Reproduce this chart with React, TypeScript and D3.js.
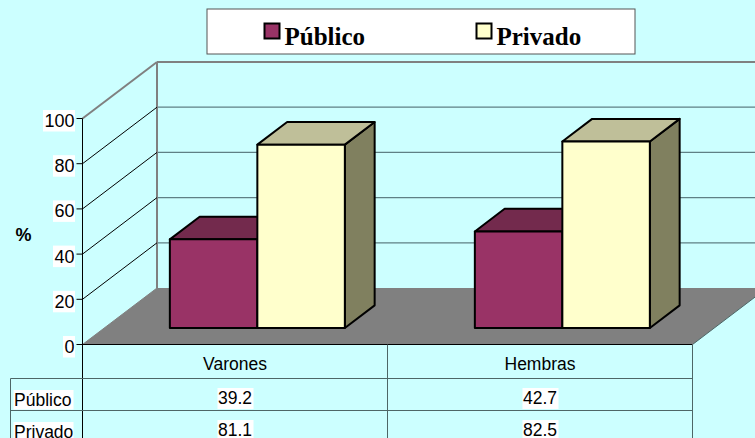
import React from "react";
import * as d3 from "d3";

const categories = ["Varones", "Hembras"];
const seriesNames = ["Público", "Privado"];
const publico = [39.2, 42.7];
const privado = [81.1, 82.5];
const yTicks = [0, 20, 40, 60, 80, 100];
const faceColors = ["#993366", "#FFFFCC"];
const topColors = ["#732A4D", "#BFBF99"];
const sideColors = ["#66223F", "#80805F"];

const W = 755, H = 438;
const y = d3.scaleLinear().domain([0, 100]).range([344.5, 118.5]);
const xBand = d3.scaleBand<string>().domain(categories).range([82.5, 692.5]);
const depthX = 74.5, depthY = 56.5;
const zFront = 0.2933, zBack = 0.6933;
const barW = 87.5;
const groupPad = (xBand.bandwidth() - 2 * barW) / 2;

const proj = (x: number, v: number, z: number): [number, number] => [x + depthX * z, y(v) - depthY * z];
const poly = (pts: [number, number][]) => pts.map((p) => p.join(",")).join(" ");

const FONT = "'Liberation Sans', Arial, sans-serif";
const SERIF = "'Liberation Serif', 'Times New Roman', serif";
const GRID = "#5F8085";
const TABLE = "#4D6666";

function Bar({ x, v, s }: { x: number; v: number; s: number }) {
  const a = proj(x, 0, zFront), b = proj(x + barW, 0, zFront);
  const c = proj(x + barW, v, zFront), d = proj(x, v, zFront);
  const c2 = proj(x + barW, v, zBack), d2 = proj(x, v, zBack), b2 = proj(x + barW, 0, zBack);
  const st = { stroke: "#000", strokeWidth: 2, strokeLinejoin: "round" as const };
  return (
    <g>
      <polygon points={poly([b, c, c2, b2])} fill={sideColors[s]} {...st} />
      <polygon points={poly([d, c, c2, d2])} fill={topColors[s]} {...st} />
      <polygon points={poly([a, b, c, d])} fill={faceColors[s]} {...st} />
    </g>
  );
}

function LabelBg({ x, y: cy, w, h }: { x: number; y: number; w: number; h: number }) {
  return <rect x={x} y={cy} width={w} height={h} fill="#fff" />;
}

export default function App() {
  const xL = xBand.range()[0], xR = xBand.range()[1];
  const rows = [publico, privado];
  const rowY = [378.5, 410.5, 442.5];
  return (
    <svg width={W} height={H} viewBox={`0 0 ${W} ${H}`} style={{ position: "absolute", left: 0, top: 0, display: "block", background: "#CCFFFF" }}>
      {/* floor */}
      <polygon points={poly([proj(xL, 0, 0), proj(xL, 0, 1), proj(xR, 0, 1), proj(xR, 0, 0)])} fill="#808080" />
      {/* back wall gridlines */}
      {yTicks.slice(1, -1).map((t) => (
        <line key={t} x1={proj(xL, t, 1)[0]} x2={W} y1={proj(xL, t, 1)[1]} y2={proj(xL, t, 1)[1]} stroke={GRID} strokeWidth={1.2} />
      ))}
      <line x1={proj(xL, 100, 1)[0]} x2={W} y1={proj(xL, 100, 1)[1]} y2={proj(xL, 100, 1)[1]} stroke="#808080" strokeWidth={2} />
      <line x1={proj(xL, 0, 1)[0]} x2={proj(xL, 0, 1)[0]} y1={proj(xL, 0, 1)[1]} y2={proj(xL, 100, 1)[1]} stroke="#808080" strokeWidth={2} />
      {/* side wall diagonals */}
      {yTicks.slice(0, -1).map((t) => (
        <line key={t} x1={proj(xL, t, 0)[0]} y1={proj(xL, t, 0)[1]} x2={proj(xL, t, 1)[0]} y2={proj(xL, t, 1)[1]} stroke={t === 0 ? "#808080" : "#000"} strokeWidth={1} />
      ))}
      <line x1={proj(xL, 100, 0)[0]} y1={proj(xL, 100, 0)[1]} x2={proj(xL, 100, 1)[0]} y2={proj(xL, 100, 1)[1]} stroke="#808080" strokeWidth={2} />

      {/* bars */}
      {categories.map((c, i) => {
        const x0 = (xBand(c) as number) + groupPad + 0.5;
        return (
          <g key={c}>
            <Bar x={x0} v={publico[i]} s={0} />
            <Bar x={x0 + barW} v={privado[i]} s={1} />
          </g>
        );
      })}

      {/* y axis */}
      <line x1={xL} x2={xL} y1={y(100)} y2={H} stroke="#000" strokeWidth={1} />
      {yTicks.map((t) => {
        const label = String(t);
        const w = label.length * 10 + 2;
        return (
          <g key={t}>
            <line x1={xL - 6} x2={xL} y1={y(t)} y2={y(t)} stroke="#000" strokeWidth={1} />
            <LabelBg x={75 - w} y={y(t) - 8.5} w={w} h={21.5} />
            <text x={74.5} y={y(t) + 8.5} textAnchor="end" fontFamily={FONT} fontSize={18} fill="#000">{label}</text>
          </g>
        );
      })}
      <text x={23.5} y={240.5} textAnchor="middle" fontFamily={FONT} fontSize={18} fontWeight="bold" fill="#000">%</text>

      {/* data table */}
      <line x1={xL} x2={xR} y1={y(0)} y2={y(0)} stroke="#000" strokeWidth={1} />
      <line x1={xR} y1={y(0)} x2={proj(xR, 0, 1)[0]} y2={proj(xR, 0, 1)[1]} stroke="#4D6666" strokeWidth={1} />
      {rowY.map((ry) => (
        <line key={ry} x1={10.5} x2={xR} y1={ry} y2={ry} stroke={TABLE} strokeWidth={1} />
      ))}
      <line x1={10.5} x2={10.5} y1={rowY[0]} y2={H} stroke={TABLE} strokeWidth={1} />
      <line x1={xBand(categories[1]) as number} x2={xBand(categories[1]) as number} y1={y(0)} y2={H} stroke={TABLE} strokeWidth={1} />
      <line x1={xR} x2={xR} y1={y(0)} y2={H} stroke={TABLE} strokeWidth={1} />
      {categories.map((c) => (
        <text key={c} x={(xBand(c) as number) + xBand.bandwidth() / 2} y={370} textAnchor="middle" fontFamily={FONT} fontSize={17.5} fill="#000">{c}</text>
      ))}
      {seriesNames.map((n, r) => (
        <g key={n}>
          <LabelBg x={13.5} y={rowY[r] + 11.5} w={60} h={19.5} />
          <text x={14} y={rowY[r] + 27.5} fontFamily={FONT} fontSize={17.5} fill="#000">{n}</text>
          {categories.map((c, i) => {
            const cx = (xBand(c) as number) + xBand.bandwidth() / 2;
            return (
              <g key={c}>
                <LabelBg x={cx - 17.5} y={rowY[r] + 9.5} w={36} h={21} />
                <text x={cx} y={rowY[r] + 25.5} textAnchor="middle" fontFamily={FONT} fontSize={17.5} fill="#000">{rows[r][i].toFixed(1)}</text>
              </g>
            );
          })}
        </g>
      ))}

      {/* legend */}
      <rect x={207} y={9} width={428} height={45} fill="#fff" stroke="#555" strokeWidth={1} />
      {seriesNames.map((n, i) => {
        const lx = [264.5, 476.5][i];
        return (
          <g key={n}>
            <rect x={lx} y={23.5} width={15} height={15} fill={faceColors[i]} stroke="#000" strokeWidth={2} />
            <text x={lx + 20} y={45} fontFamily={SERIF} fontSize={25} fontWeight="bold" fill="#000">{n}</text>
          </g>
        );
      })}
    </svg>
  );
}
